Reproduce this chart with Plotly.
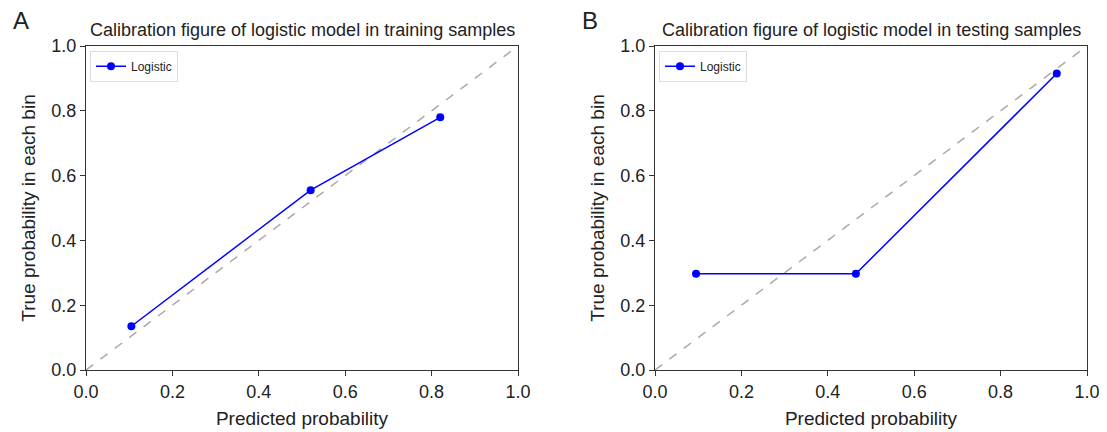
import plotly.graph_objects as go

# Data
train_pred = [0.105, 0.52, 0.82]
train_true = [0.135, 0.555, 0.78]
test_pred = [0.095, 0.465, 0.93]
test_true = [0.297, 0.297, 0.915]
diag = [0.0, 1.0]
ticks = [0.0, 0.2, 0.4, 0.6, 0.8, 1.0]
tick_labels = ["0.0", "0.2", "0.4", "0.6", "0.8", "1.0"]
titles = ["Calibration figure of logistic model in training samples",
          "Calibration figure of logistic model in testing samples"]
panel_labels = ["A", "B"]

FONT = "Liberation Sans, Arial, Helvetica, sans-serif"
W, H = 1107, 432
L, R, T, B = 78, 28, 38, 70
pw = W - L - R
dA = [0, (510 - L) / pw]
dB = [(647 - L) / pw, 1]

fig = go.Figure()
for i, (px, py, ax) in enumerate([(train_pred, train_true, ""), (test_pred, test_true, "2")]):
    fig.add_trace(go.Scatter(x=diag, y=diag, mode="lines", showlegend=False,
                             line=dict(color="#aaaaaa", width=1.5, dash="dash"),
                             xaxis="x" + ax, yaxis="y" + ax))
    fig.add_trace(go.Scatter(x=px, y=py, mode="lines+markers", name="Logistic",
                             line=dict(color="#0000ff", width=1.5),
                             marker=dict(color="#0000ff", size=8),
                             xaxis="x" + ax, yaxis="y" + ax,
                             legend="legend" + ax))

axis_common = dict(range=[0, 1], tickvals=ticks, ticktext=tick_labels, ticks="outside",
                   ticklen=5, tickwidth=1, tickcolor="#333", showline=True, linecolor="#333",
                   linewidth=1.2, mirror=True, showgrid=False, zeroline=False, automargin=False,
                   tickfont=dict(family=FONT, size=18, color="#222"))

fig.update_layout(
    width=W, height=H, margin=dict(l=L, r=R, t=T, b=B),
    plot_bgcolor="white", paper_bgcolor="white",
    font=dict(family=FONT, color="#222"),
    xaxis=dict(domain=dA, anchor="y", title=dict(text="Predicted probability", font=dict(size=19), standoff=10), **axis_common),
    yaxis=dict(domain=[0, 1], anchor="x", title=dict(text="True probability in each bin", font=dict(size=19), standoff=10), **axis_common),
    xaxis2=dict(domain=dB, anchor="y2", title=dict(text="Predicted probability", font=dict(size=19), standoff=10), **axis_common),
    yaxis2=dict(domain=[0, 1], anchor="x2", title=dict(text="True probability in each bin", font=dict(size=19), standoff=10), **axis_common),
    legend=dict(x=0.004, y=0.985, xanchor="left", yanchor="top", bgcolor="white",
                bordercolor="#dddddd", borderwidth=1, font=dict(size=12, family=FONT)),
    legend2=dict(x=dB[0] + 0.004, y=0.985, xanchor="left", yanchor="top", bgcolor="white",
                 bordercolor="#dddddd", borderwidth=1, font=dict(size=12, family=FONT)),
)

for i, d in enumerate([dA, dB]):
    fig.add_annotation(text=titles[i], xref="paper", yref="paper",
                       x=(d[0] + d[1]) / 2, y=1.0, yshift=4, xanchor="center", yanchor="bottom",
                       showarrow=False, font=dict(size=18, family=FONT, color="#222"))
    fig.add_annotation(text=panel_labels[i], xref="paper", yref="paper",
                       x=d[0], xshift=-75, y=1.0, yshift=26, xanchor="left", yanchor="middle",
                       showarrow=False, font=dict(size=24, family=FONT, color="#222"))

fig.write_html("out.html")
